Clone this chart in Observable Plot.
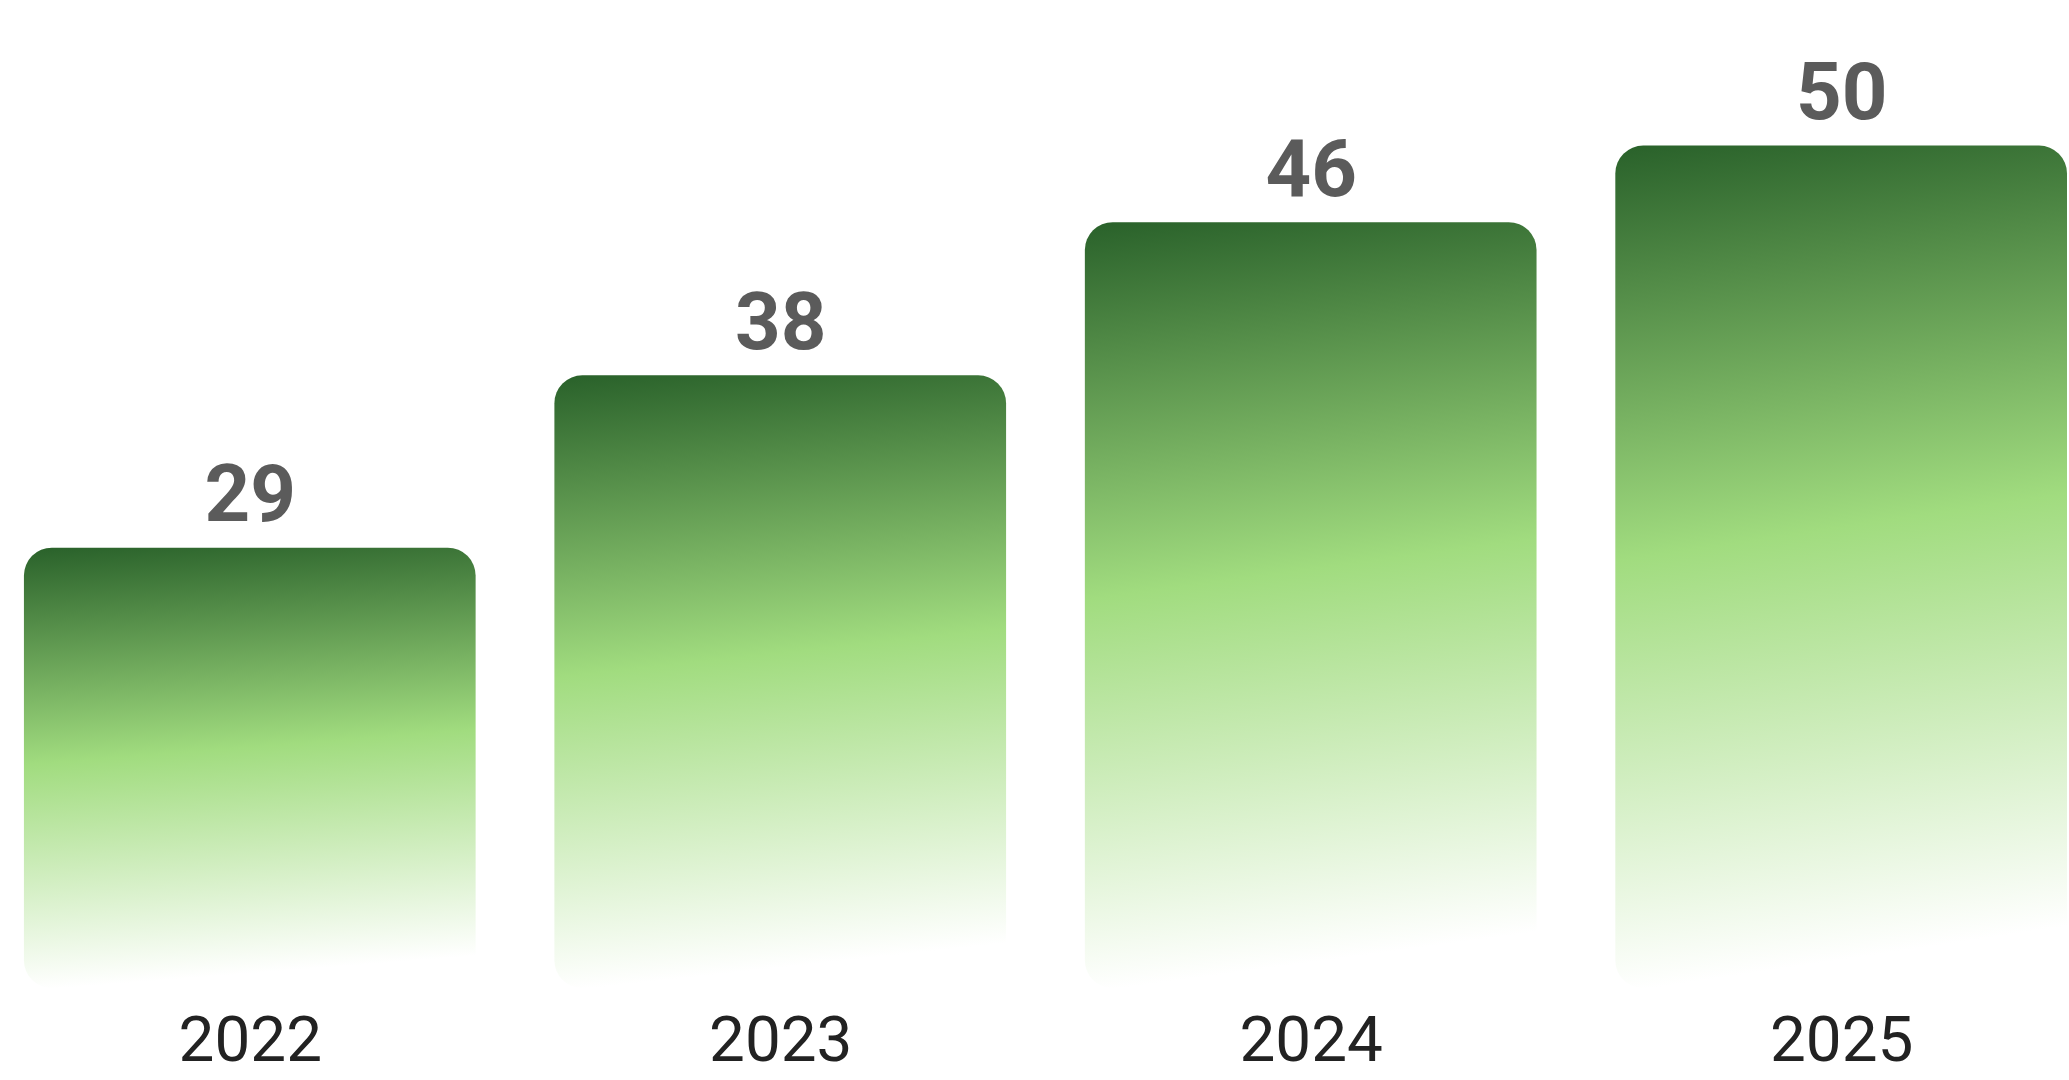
<!DOCTYPE html>
<html>
<head>
<meta charset="utf-8">
<script src="https://cdn.jsdelivr.net/npm/d3@7"></script>
<script src="https://cdn.jsdelivr.net/npm/@observablehq/plot@0.6"></script>
<style>
  html, body { margin: 0; padding: 0; background: #ffffff; overflow: hidden; }
  #chart { width: 2069px; height: 1080px; overflow: hidden; }
</style>
</head>
<body>
<div id="chart"></div>
<script>
// Data
const years = ["2022", "2023", "2024", "2025"];
const values = [29, 38, 46, 50];

const data = years.map((year, i) => ({year, value: values[i]}));

const yMin = 6;      // value axis starts above zero (no axis drawn)
const yMax = 57.6;

const chart = Plot.plot({
  width: 2075,
  height: 1080,
  marginLeft: 23.5,
  marginRight: 0.5,
  marginTop: 0,
  marginBottom: 89,
  style: {fontFamily: "Roboto, 'Noto Sans', sans-serif", fontSize: "64px", color: "#222222", background: "transparent", overflow: "visible"},
  x: {domain: years, paddingInner: 0.148, paddingOuter: 0, tickSize: 0, tickPadding: 27, label: null},
  y: {domain: [yMin, yMax], axis: null},
  marks: [
    Plot.barY(data, {
      x: "year",
      y1: yMin,
      y2: "value",
      fill: "url(#barGrad)",
      rx: 28,
      ry: 28
    }),
    Plot.text(data, {
      x: "year",
      y: "value",
      text: d => String(d.value),
      lineAnchor: "bottom",
      dy: -27,
      fontSize: 80,
      fontWeight: 700,
      fill: "#5b5b5b"
    })
  ]
});

// gradient definition used by the bars
const svg = chart.tagName.toLowerCase() === "svg" ? chart : chart.querySelector("svg");
const defs = d3.select(svg).insert("defs", ":first-child");
const grad = defs.append("linearGradient")
  .attr("id", "barGrad")
  .attr("x1", 0).attr("y1", 0)
  .attr("x2", 0.08).attr("y2", 1);
grad.append("stop").attr("offset", 0).attr("stop-color", "#29612a");
grad.append("stop").attr("offset", 0.49).attr("stop-color", "#a1dc7f");
grad.append("stop").attr("offset", 1).attr("stop-color", "#ffffff");

document.getElementById("chart").appendChild(chart);
</script>
</body>
</html>
